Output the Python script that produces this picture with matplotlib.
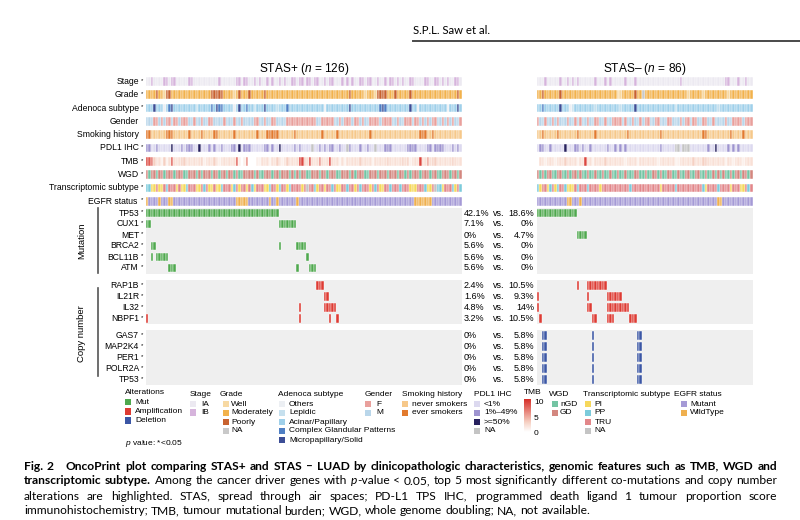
import matplotlib
matplotlib.use('Agg')
import matplotlib.pyplot as plt
from matplotlib.colors import LinearSegmentedColormap
from matplotlib.patches import Rectangle
import numpy as np

plt.rcParams['font.family'] = ['Liberation Sans', 'DejaVu Sans']
plt.rcParams['mathtext.fontset'] = 'custom'
plt.rcParams['mathtext.rm'] = 'Liberation Sans'
plt.rcParams['mathtext.it'] = 'Liberation Sans:italic'


def track(s):
    return s.replace(' ', '')


# ---- clinical annotation tracks, one letter per patient ----
n_L = 126
n_R = 86

stage_L = track("aabaaaabba bbaaaaabba aaaaaaaaab aaaaaabbab baababaaba baababaabb abbabbabba "
                "ababbaaaba babaabbabb aabaababba babaabbaaa abbaabbaba baabba")
stage_R = track("aaabaaaaab aabababaaa aaabaaabab aaaaabaaab aaaaaaaaaa aaaaaaabaa aaaaaaaaaa "
                "aaaaabbaaa baabaa")

grade_L = track("mmmmpmmwpp mmmmmmmmmm mmmmmmpppp pmmmmwmpmm mpmmmmmpmm mmmmmmmmmm mmmmmmmmmm "
                "mmmmmmmmmm mpmmmmmwmm mwppppmmmp mmmmmpmmmm mmmmmmmmmm mmmmpm")
grade_R = track("mmpmmmmmmp mmmmmmmmmm mmmmmmmmmm mmwwmmmmmp mmnmmmmmmm mmmmmmmmmm wmmmmmwmmm "
                "mmmmmmwmmm mmmmmm")

adeno_L = track("aaasaaaoac saaaaaaaaa laaaaacasc caaaaoasaa caalaaasaa aalaaacaaa aaaaaaaaaa "
                "aoaaaaaaaa asaaaaaaaa aaacscaaaa aaaaasaaoa aaaaaaaaaa oaaasa")
adeno_R = track("aacaaaaaas aaaolaaaaa aaalaaaaaa aaalaaaaas aaaaaaaaaa aaaaalaaaa aaaaaaaaaa "
                "aalaaaaaaa aaaaaa")

gender_L = track("mmmffmfmff mffmfffmmf mmfmmffmmm mfmmmfmmfm mmmffmmfmm ffmmmmffff ffffffffmm "
                 "fffffmmfmf ffmffmfmmf fffmffffmm fmmfffmffm fmfmffmmfm fmfmmf")
gender_R = track("fmmfmmfmfm mmfmmfmfmm fmmffmmfmm ffffmfmmfm mfmffmmffm mmffmmmfmf fmffmmffmm "
                 "fmmmmfmmff ffmfff")

smoking_L = track("eennnnnnee ennnnnnenn nnennnneen nnnnnennnn nnnnennnee eeennnnnne nnnnnnnnnn "
                  "ennnnnennn nnnnnnnnne nnnnnnnnnn nnnnnnnnne eennennnnn nnnnnn")
smoking_R = track("nnennnnnen nnnnnnennn nnnennnnnn nnnnnnennn nnnnnnnnne nnnnnnnnnn nnnnnneenn "
                  "nnnnnnnenn nnennn")

pdl1_L = track("mmllmlllll hlllmlmmml lhlllmlmll mlllmmlhlm mmlllllmml mllhlllllm lmllllnllm "
               "lmlmmllmll nmlllmllml lnlllmmmll llllmmmmll llmmlmmmml llmlml")
pdl1_R = track("lmmllmllll lhlllmmlml lmllllllml lmlmlmllll lllllllllm lllllnnlnn nlllllllml "
               "lhllllmlml mlllll")

tmb_L = track("9873221312 8222332222 2231222321 2222228101 6000112221 2232123222 2993292226 "
              "2229222121 2222232222 1222223222 2232312229 2252332222 223222")
tmb_R = track("0221222122 2322221229 2212222322 2222212222 1222222212 2222211222 2232223322 "
              "2222212212 221222")

wgd_L = track("gnggnggngg gngggnnggg ngngggnggn ggnggngnng gggngnnggg nggngggngn gnggnngggn "
              "ggngggnngg gngngggnng ggngggnggg nggngngggn gggnggnngg gnggng")
wgd_R = track("gngnggnngg nngnggngnn gnngnngnng nngnngnnng gnngnnggng nnggnngnng gnnggnngnn "
              "gngngnngng gnggng")

trans_L = track("ppiitiitpt ttitiipttt iitptiitii ptttiptitt itpitttiip ttipttiptt ttitnttpit "
                "tittptiitt pttitpttti tptiittptt tptttiiitt tpiitnppit ttpitp")
trans_R = track("pittiptipt tpiiitpttt pttttitttt tttttttptt ttttttttti tttttptttt ttttttpitt "
                "ttpttttitt tiitpt")

egfr_L = track("wmmmmwmmmw wmmmmmmmmm mmmmmmmmmm mmmmmmwwww wmmmmmmmmw mmwmmmmmmm wmmmmmmmmm "
               "mmmmmmmmmm mmmmmmmmmm mmmmmmmmmm mmmmmmmwww wwwwmmmmmm mmmmmm")
egfr_R = track("mmmmmmmmmm mmwwmmmwmm mmmmmmmmmm mmmmmmmmmm mmmmmmmmmm mmmmmmmmmm mmmmmmmmmm "
               "mmwwmmmmmm mmmmmm")

# ---- altered patients (column index) per gene ----
mut_genes = ['TP53', 'CUX1', 'MET', 'BRCA2', 'BCL11B', 'ATM']
mut_L = [list(range(0, 53)), [0, 1] + list(range(53, 60)), [],
         [2, 3, 53, 60, 61, 62, 63], [2, 4, 5, 6, 7, 8, 64], [9, 10, 11, 60, 65, 66, 67]]
mut_R = [list(range(0, 16)), [], [16, 17, 18, 19], [], [], []]

amp_genes = ['RAP1B', 'IL21R', 'IL32', 'NBPF1']
amp_L = [[68, 69, 70], [71, 72], [61, 71, 72, 73, 74, 75], [0, 61, 73, 76]]
amp_R = [[16] + list(range(20, 28)), [0, 20] + list(range(28, 34)),
         [0, 20, 21] + list(range(28, 37)), [1, 22, 23, 28, 29, 30, 37, 38, 39]]

del_genes = ['GAS7', 'MAP2K4', 'PER1', 'POLR2A', 'TP53']
del_L = [[], [], [], [], []]
del_R = [[2, 3, 22, 40, 41]] * 5

for s, n in [(stage_L, n_L), (grade_L, n_L), (adeno_L, n_L), (gender_L, n_L), (smoking_L, n_L),
             (pdl1_L, n_L), (tmb_L, n_L), (wgd_L, n_L), (trans_L, n_L), (egfr_L, n_L),
             (stage_R, n_R), (grade_R, n_R), (adeno_R, n_R), (gender_R, n_R), (smoking_R, n_R),
             (pdl1_R, n_R), (tmb_R, n_R), (wgd_R, n_R), (trans_R, n_R), (egfr_R, n_R)]:
    assert len(s) == n, (s, len(s))

# ---- colours ----
stage_pal = {'a': '#ece9f1', 'b': '#d6b4dc'}
grade_pal = {'w': '#f7d9a3', 'm': '#f2b24c', 'p': '#c8622f', 'n': '#c9c9c9'}
adeno_pal = {'o': '#eceff3', 'l': '#c6e0ee', 'a': '#9fd0ea', 'c': '#4f7fc4', 's': '#3c4e96'}
gender_pal = {'f': '#e9a09c', 'm': '#b9d6ea'}
smoking_pal = {'n': '#f6c88a', 'e': '#e27a2e'}
pdl1_pal = {'l': '#dcd9ef', 'm': '#9e94d0', 'h': '#27215e', 'n': '#c4c4c4'}
wgd_pal = {'n': '#74c4a3', 'g': '#d3877f'}
trans_pal = {'i': '#f6d85c', 'p': '#7ccbdb', 't': '#e2878a', 'n': '#c4c4c4'}
egfr_pal = {'m': '#a59ad6', 'w': '#efb04f'}
tmb_cmap = LinearSegmentedColormap.from_list('tmb', [(0, '#ffffff'), (0.3, '#f6d0c2'), (1, '#d7302a')])
alt_col = {'Mut': '#4fa84e', 'Amplification': '#dd3b33', 'Deletion': '#3b56a5'}
bg_col = '#efefef'

W, H = 800, 520
fig = plt.figure(figsize=(8, 5.2), dpi=100)
ov = fig.add_axes([0, 0, 1, 1])
ov.set_xlim(0, W)
ov.set_ylim(H, 0)
ov.axis('off')


def panel(x0, x1, n):
    ax = fig.add_axes([x0 / W, 1 - 387 / H, (x1 - x0) / W, (387 - 75) / H])
    ax.set_xlim(0, n)
    ax.set_ylim(387, 75)
    ax.axis('off')
    return ax


axL = panel(145.5, 462, n_L)
axR = panel(536.5, 752.5, n_R)

lab_fs = 6.2


def row_label(y, text, star=True, gap=0):
    ov.text(139 - gap, y, text, ha='right', va='center', fontsize=lab_fs)
    if star:
        ov.text(140.5, y - 1.2, '*', ha='left', va='center', fontsize=4.2)


# annotation rows
ann = [('Stage', True, stage_L, stage_R, stage_pal),
       ('Grade', True, grade_L, grade_R, grade_pal),
       ('Adenoca subtype', True, adeno_L, adeno_R, adeno_pal),
       ('Gender', False, gender_L, gender_R, gender_pal),
       ('Smoking history', False, smoking_L, smoking_R, smoking_pal),
       ('PDL1 IHC', True, pdl1_L, pdl1_R, pdl1_pal),
       ('TMB', True, tmb_L, tmb_R, None),
       ('WGD', True, wgd_L, wgd_R, wgd_pal),
       ('Transcriptomic subtype', True, trans_L, trans_R, trans_pal),
       ('EGFR status', True, egfr_L, egfr_R, egfr_pal)]

for k, (name, star, tL, tR, pal) in enumerate(ann):
    y = 81.5 + 13.3 * k
    row_label(y, name, star, gap=2 if name == 'EGFR status' else 0)
    for ax, t in ((axL, tL), (axR, tR)):
        if pal is None:
            cols = [tmb_cmap(int(c) / 10) for c in t]
        else:
            cols = [pal[c] for c in t]
        ax.bar(np.arange(len(t)) + 0.5, 8.8, bottom=y - 4.4, width=1, color=cols,
               edgecolor='white', linewidth=0.3)


def pct(idx, n):
    v = round(100 * len(idx) / n, 1)
    return f"{v:.1f}".rstrip('0').rstrip('.') + '%'


blocks = [(207.5, mut_genes, mut_L, mut_R, alt_col['Mut']),
          (280.0, amp_genes, amp_L, amp_R, alt_col['Amplification']),
          (330.0, del_genes, del_L, del_R, alt_col['Deletion'])]
for top, genes, gL, gR, col in blocks:
    bottom = top + 11 * len(genes)
    for ax in (axL, axR):
        ax.axhspan(top, bottom, color=bg_col, lw=0, zorder=0)
    for r, g in enumerate(genes):
        y = top + 5.5 + 11 * r
        row_label(y, g)
        for ax, idx in ((axL, gL[r]), (axR, gR[r])):
            if idx:
                ax.bar(np.array(idx) + 0.5, 8.8, bottom=y - 4.4, width=1, color=col,
                       edgecolor='white', linewidth=0.3, zorder=2)
        ov.text(464, y, pct(gL[r], n_L), ha='left', va='center', fontsize=6.5)
        ov.text(493, y, 'vs.', ha='left', va='center', fontsize=6.5)
        ov.text(534, y, pct(gR[r], n_R), ha='right', va='center', fontsize=6.5)

# group brackets
ov.text(82, 241, 'Mutation', rotation=90, ha='center', va='center', fontsize=6.8)
ov.plot([97.5, 97.5], [208, 273], color='#555555', lw=1.2)
ov.text(82, 334, 'Copy number', rotation=90, ha='center', va='center', fontsize=6.8)
ov.plot([97.5, 97.5], [288, 376], color='#555555', lw=1.2)

# titles
ov.text(304, 69, r'STAS+ ($n$ = 126)', ha='center', va='center', fontsize=8.6)
ov.text(645, 69, r'STAS– ($n$ = 86)', ha='center', va='center', fontsize=8.6)

# header
ov.text(413, 31, 'S.P.L. Saw et al.', ha='left', va='center', fontsize=8.2,
        family=['Lato', 'DejaVu Sans'])
ov.plot([413, 800], [40.5, 40.5], color='#4a4a4a', lw=1.4)

# ---- legend ----
leg_fs = 6.0


def legend_group(tx, ty, title, labels, colors, sx, lx, y0=404, dy=9):
    ov.text(tx, ty, title, ha='left', va='center', fontsize=leg_fs)
    for i, (lab, c) in enumerate(zip(labels, colors)):
        y = y0 + i * dy
        ov.add_patch(Rectangle((sx, y - 3.4), 6.3, 6.8, color=c, lw=0))
        ov.text(lx, y, lab, ha='left', va='center', fontsize=leg_fs)


legend_group(125, 392, 'Alterations', list(alt_col), list(alt_col.values()), 124.5, 135, y0=402, dy=9.2)
legend_group(190, 394, 'Stage', ['IA', 'IB'], list(stage_pal.values()), 190, 201.5, dy=8.8)
legend_group(220, 394, 'Grade', ['Well', 'Moderately', 'Poorly', 'NA'], list(grade_pal.values()), 222.5, 231)
legend_group(278.5, 394, 'Adenoca subtype',
             ['Others', 'Lepidic', 'Acinar/Papillary', 'Complex Glandular Patterns', 'Micropapillary/Solid'],
             list(adeno_pal.values()), 279, 289)
legend_group(364.5, 394, 'Gender', ['F', 'M'], list(gender_pal.values()), 364.5, 376)
legend_group(401.5, 394, 'Smoking history', ['never smokers', 'ever smokers'], list(smoking_pal.values()),
             401.5, 411.5)
legend_group(473.5, 394, 'PDL1 IHC', ['<1%', '1%–49%', '>=50%', 'NA'], list(pdl1_pal.values()), 474, 484)
legend_group(549, 394, 'WGD', ['nGD', 'GD'], list(wgd_pal.values()), 551.5, 560)
legend_group(583, 394, 'Transcriptomic subtype', ['PI', 'PP', 'TRU', 'NA'], list(trans_pal.values()),
             584.5, 594.5)
legend_group(674.5, 394, 'EGFR status', ['Mutant', 'WildType'], list(egfr_pal.values()), 681, 690)

# TMB colour bar
ov.text(523.5, 393, 'TMB', ha='left', va='center', fontsize=leg_fs)
tmb_ticks = [10, 5, 0]
ov.imshow(np.linspace(10, 0, 60)[:, None], cmap=tmb_cmap, vmin=0, vmax=10,
          extent=(523.5, 530.5, 432.5, 399.5), aspect='auto', interpolation='bilinear')
for v in tmb_ticks:
    ov.text(534, 432.5 - v / 10 * 31 + 1, str(v), ha='left', va='center', fontsize=leg_fs)
ov.set_xlim(0, W)
ov.set_ylim(H, 0)

ov.text(125, 443.5, r'$p$ value: *<0.05', ha='left', va='center', fontsize=leg_fs)

# ---- caption (justified) ----
renderer = fig.canvas.get_renderer()
cap_font = ['Lato', 'DejaVu Sans']
cap_x0, cap_x1 = 24, 777

cap_lines = [
    [('Fig. 2', 'b'), (' OncoPrint plot comparing STAS+ and STAS – LUAD by clinicopathologic '
                       'characteristics, genomic features such as TMB, WGD and', 'b')],
    [('transcriptomic subtype.', 'b'), (' Among the cancer driver genes with ', 'r'), ('p', 'i'),
     ('-value < 0.05, top 5 most significantly different co-mutations and copy number', 'r')],
    [('alterations are highlighted. STAS, spread through air spaces; PD-L1 TPS IHC, programmed '
      'death ligand 1 tumour proportion score', 'r')],
    [('immunohistochemistry; TMB, tumour mutational burden; WGD, whole genome doubling; NA, '
      'not available.', 'r')],
]
cap_base = [469.5, 484.5, 499.5, 514.5]


def seg(s, st, size):
    return ov.text(0, 0, s, fontsize=size, family=cap_font,
                   fontweight='bold' if st == 'b' else 'normal',
                   fontstyle='italic' if st == 'i' else 'normal',
                   ha='left', va='baseline')


def words_of(segs):
    words = [[]]
    for txt, st in segs:
        for j, p in enumerate(txt.split(' ')):
            if j > 0:
                words.append([])
            if p:
                words[-1].append((p, st))
    return [w for w in words if w]


def lay_line(segs, y, size, justify, extra_after_first=0.0, measure_only=False):
    words = words_of(segs)
    arts, widths = [], []
    for w in words:
        ws = []
        for p, st in w:
            t = seg(p, st, size)
            ws.append((t, t.get_window_extent(renderer).width))
        arts.append(ws)
        widths.append(sum(b for _, b in ws))
    a = seg('a a', segs[-1][1], size)
    b = seg('aa', segs[-1][1], size)
    space = a.get_window_extent(renderer).width - b.get_window_extent(renderer).width
    a.remove()
    b.remove()
    natural = sum(widths) + space * (len(words) - 1) + extra_after_first
    if measure_only:
        for ws in arts:
            for t, _ in ws:
                t.remove()
        return natural
    gap = space
    if justify:
        gap = (cap_x1 - cap_x0 - sum(widths) - extra_after_first) / (len(words) - 1)
    x = cap_x0
    for i, ws in enumerate(arts):
        for t, bw in ws:
            t.set_position((x, y))
            x += bw
        x += gap + (extra_after_first if i == 1 else 0)
    return natural


cap_size = 8.8
widest = max(lay_line(l, 0, cap_size, False, 8 if i == 0 else 0, measure_only=True)
             for i, l in enumerate(cap_lines[:3]))
if widest > (cap_x1 - cap_x0):
    cap_size = cap_size * (cap_x1 - cap_x0) / widest * 0.985

for i, (l, yb) in enumerate(zip(cap_lines, cap_base)):
    lay_line(l, yb, cap_size, justify=(i < 3), extra_after_first=8 if i == 0 else 0)

fig.savefig('out.png', dpi=100)
